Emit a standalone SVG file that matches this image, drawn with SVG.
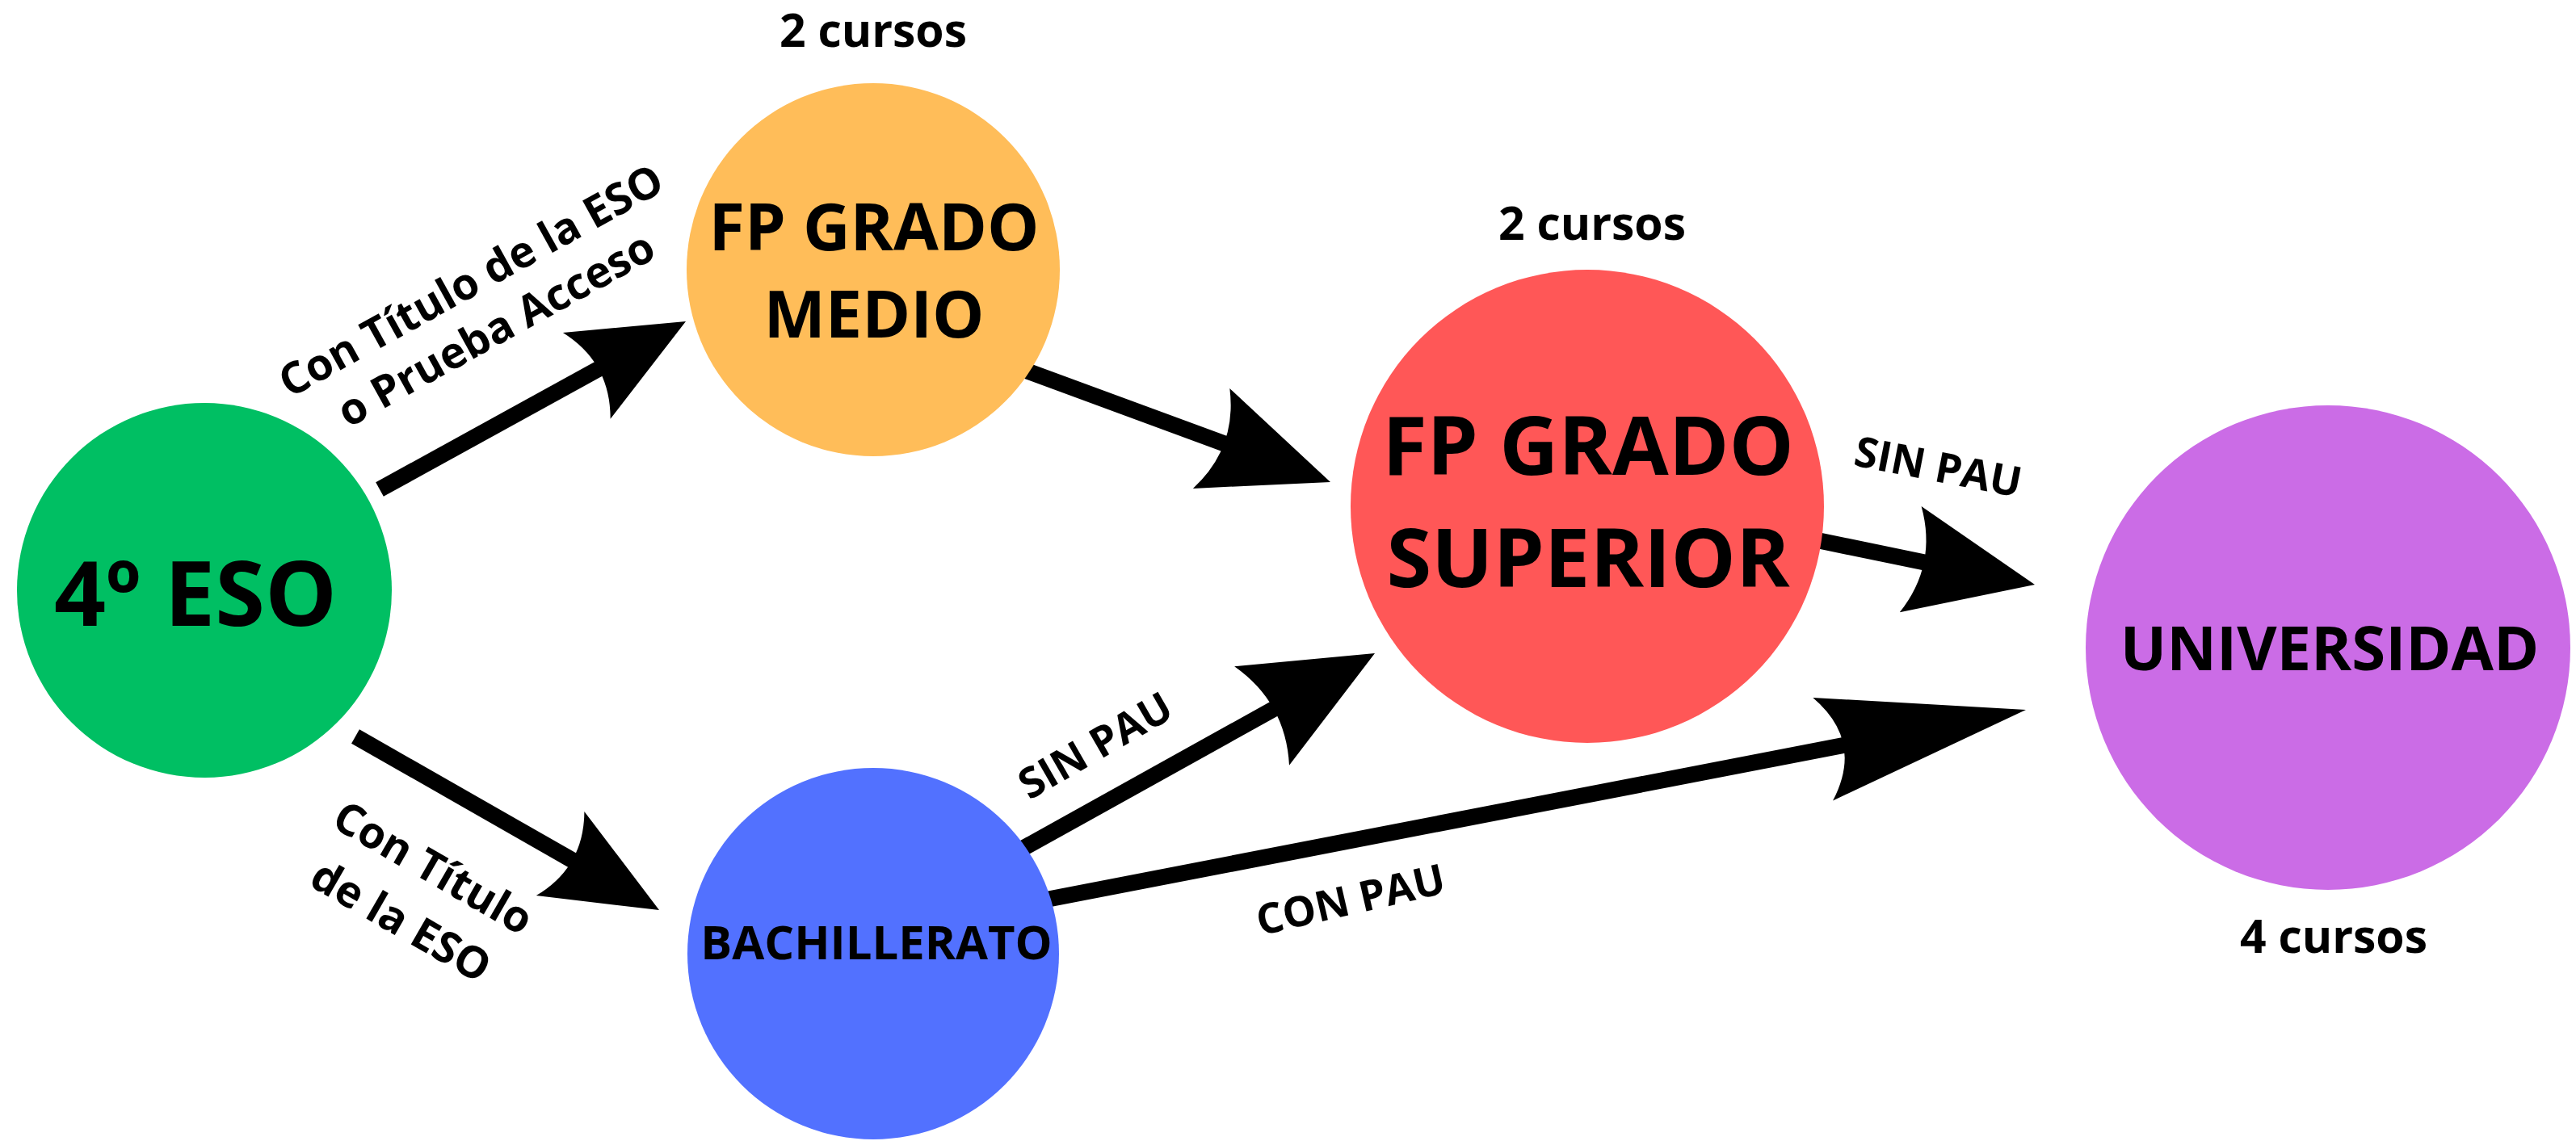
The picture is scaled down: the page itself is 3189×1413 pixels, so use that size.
<svg xmlns="http://www.w3.org/2000/svg" width="3189" height="1413" viewBox="0 0 3189 1413">
<style>
.bg{fill:#ffffff}
.shaft{stroke:#000;stroke-width:20;stroke-linecap:butt;fill:none}
.head{fill:#000}
.t{font-family:"Open Sans","DejaVu Sans",sans-serif;font-weight:700;fill:#000;text-anchor:middle}
.lbl{font-size:54px}
.pau{font-size:52px}
.cur{font-size:57px}
</style>
<rect class="bg" x="0" y="0" width="3189" height="1413"/>
<g id="connectors">
  <g id="c-eso-medio">
    <line class="shaft" x1="470" y1="606" x2="748" y2="453"/>
    <path class="head" transform="translate(849,398) rotate(-28.76)" d="M0,0 L-140,-61 Q-106,0 -140,61 Z"/>
  </g>
  <g id="c-eso-bach">
    <line class="shaft" x1="440" y1="912" x2="715" y2="1069"/>
    <path class="head" transform="translate(816,1127) rotate(29.76)" d="M0,0 L-141,-60 Q-107,0 -141,60 Z"/>
  </g>
  <g id="c-medio-sup">
    <line class="shaft" x1="1262" y1="456" x2="1523" y2="552"/>
    <path class="head" transform="translate(1647,597) rotate(20.14)" d="M0,0 L-157,-66 Q-123,0 -157,66 Z"/>
  </g>
  <g id="c-sup-uni">
    <line class="shaft" x1="2240" y1="667" x2="2390" y2="698"/>
    <path class="head" transform="translate(2519,724) rotate(11.55)" d="M0,0 L-157,-67 Q-123,0 -157,67 Z"/>
  </g>
  <g id="c-bach-sup">
    <line class="shaft" x1="1255" y1="1057" x2="1584" y2="874"/>
    <path class="head" transform="translate(1702,809) rotate(-29)" d="M0,0 L-160,-70 Q-126,0 -160,70 Z"/>
  </g>
  <g id="c-bach-uni">
    <line class="shaft" x1="1285" y1="1116" x2="2287" y2="922"/>
    <path class="head" transform="translate(2508,879) rotate(-10.97)" d="M0,0 L-256,-65 Q-204,0 -256,65 Z"/>
  </g>
  <text class="t lbl" transform="translate(592,364) rotate(-29)">Con Título de la ESO</text>
  <text class="t lbl" transform="translate(623,424) rotate(-29)">o Prueba Acceso</text>
  <text class="t lbl" transform="translate(527,1091) rotate(30)">Con Título</text>
  <text class="t lbl" transform="translate(487,1157) rotate(30)">de la ESO</text>
  <text class="t pau" transform="translate(1365,939) rotate(-30)">SIN PAU</text>
  <text class="t pau" transform="translate(1676,1132) rotate(-13)">CON PAU</text>
  <text class="t pau" transform="translate(2396,596) rotate(11)">SIN PAU</text>
</g>
<g id="n-eso">
  <circle cx="253" cy="731" r="232" fill="#00BF63"/>
  <text class="t" x="242" y="775" font-size="112">4º ESO</text>
</g>
<g id="n-medio">
  <circle cx="1081" cy="334" r="231" fill="#FFBD59"/>
  <text class="t" x="1082" y="310" font-size="81">FP GRADO</text>
  <text class="t" x="1082" y="418" font-size="81">MEDIO</text>
  <text class="t cur" x="1081" y="58">2 cursos</text>
</g>
<g id="n-superior">
  <circle cx="1965" cy="627" r="293" fill="#FF5757"/>
  <text class="t" x="1966" y="588" font-size="101">FP GRADO</text>
  <text class="t" x="1966" y="727" font-size="101">SUPERIOR</text>
  <text class="t cur" x="1971" y="297">2 cursos</text>
</g>
<g id="n-bach">
  <circle cx="1081" cy="1181" r="230" fill="#5271FF"/>
  <text class="t" x="1085" y="1188" font-size="58">BACHILLERATO</text>
</g>
<g id="n-uni">
  <circle cx="2882" cy="802" r="300" fill="#CB6CE6"/>
  <text class="t" x="2884" y="830" font-size="76">UNIVERSIDAD</text>
  <text class="t cur" x="2889" y="1180">4 cursos</text>
</g>
</svg>
